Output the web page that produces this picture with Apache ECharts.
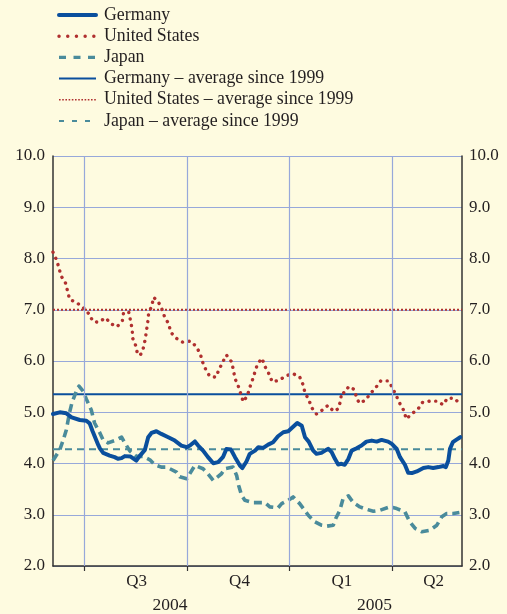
<!DOCTYPE html>
<html>
<head>
<meta charset="utf-8">
<script src="https://cdn.jsdelivr.net/npm/echarts@6/dist/echarts.min.js"></script>
<style>
  html, body { margin: 0; padding: 0; background: #fefbe0; }
  #chart { width: 507px; height: 614px; }
</style>
</head>
<body>
<div id="chart"></div>
<script>
// x values are decimal years (2004.5 = start of Q3 2004)
const xMin = 2004.4225;
const xMax = 2005.4214;

const seriesNames = ['Germany', 'United States', 'Japan',
  'Germany \u2013 average since 1999', 'United States \u2013 average since 1999', 'Japan \u2013 average since 1999'];

const germanyX = [2004.4225,2004.439,2004.455,2004.468,2004.488,2004.504,2004.512,2004.519,2004.524,2004.533,2004.537,2004.545,2004.561,2004.573,2004.581,2004.590,2004.598,2004.612,2004.620,2004.626,2004.634,2004.647,2004.655,2004.663,2004.675,2004.687,2004.704,2004.720,2004.736,2004.749,2004.757,2004.769,2004.777,2004.789,2004.801,2004.814,2004.826,2004.838,2004.846,2004.857,2004.867,2004.879,2004.885,2004.895,2004.903,2004.916,2004.924,2004.936,2004.948,2004.960,2004.972,2004.985,2004.997,2005.005,2005.019,2005.030,2005.038,2005.047,2005.058,2005.066,2005.078,2005.087,2005.095,2005.103,2005.111,2005.119,2005.127,2005.135,2005.144,2005.152,2005.164,2005.176,2005.188,2005.201,2005.213,2005.225,2005.241,2005.250,2005.262,2005.270,2005.282,2005.290,2005.299,2005.311,2005.327,2005.339,2005.351,2005.364,2005.376,2005.382,2005.388,2005.392,2005.399,2005.408,2005.417];
const germanyValues = [4.965,4.998,4.979,4.901,4.849,4.835,4.784,4.635,4.538,4.363,4.295,4.208,4.155,4.124,4.091,4.105,4.144,4.136,4.091,4.058,4.144,4.266,4.513,4.596,4.629,4.577,4.513,4.447,4.350,4.318,4.350,4.431,4.350,4.252,4.124,4.004,4.027,4.130,4.285,4.272,4.124,3.961,3.911,4.039,4.188,4.252,4.318,4.305,4.369,4.416,4.532,4.610,4.629,4.687,4.790,4.738,4.513,4.427,4.252,4.188,4.208,4.252,4.285,4.221,4.091,3.981,3.994,3.975,4.091,4.252,4.299,4.350,4.427,4.447,4.427,4.460,4.427,4.383,4.285,4.124,3.975,3.819,3.814,3.845,3.911,3.930,3.911,3.930,3.950,3.930,4.058,4.285,4.416,4.466,4.513];

const usX = [2004.4225,2004.431,2004.437,2004.442,2004.453,2004.458,2004.463,2004.481,2004.497,2004.511,2004.520,2004.534,2004.551,2004.564,2004.579,2004.592,2004.595,2004.608,2004.612,2004.616,2004.617,2004.625,2004.629,2004.636,2004.644,2004.648,2004.651,2004.654,2004.656,2004.664,2004.668,2004.679,2004.688,2004.695,2004.705,2004.710,2004.723,2004.739,2004.759,2004.771,2004.782,2004.787,2004.795,2004.805,2004.820,2004.828,2004.837,2004.846,2004.859,2004.863,2004.867,2004.875,2004.881,2004.887,2004.897,2004.903,2004.910,2004.916,2004.922,2004.933,2004.940,2004.950,2004.958,2004.975,2004.991,2005.008,2005.025,2005.033,2005.038,2005.047,2005.055,2005.066,2005.078,2005.094,2005.108,2005.118,2005.125,2005.127,2005.134,2005.145,2005.157,2005.164,2005.170,2005.185,2005.198,2005.211,2005.223,2005.242,2005.252,2005.261,2005.270,2005.280,2005.285,2005.299,2005.314,2005.325,2005.343,2005.361,2005.375,2005.386,2005.404,2005.417];
const usValues = [8.124,7.975,7.819,7.664,7.522,7.367,7.204,7.134,7.037,6.913,6.771,6.757,6.843,6.726,6.668,6.790,6.951,6.946,6.777,6.615,6.447,6.291,6.130,6.117,6.272,6.435,6.602,6.765,6.926,7.082,7.243,7.165,7.023,6.862,6.726,6.563,6.447,6.369,6.388,6.291,6.150,5.994,5.845,5.703,5.683,5.833,5.981,6.117,5.981,5.825,5.658,5.509,5.363,5.204,5.320,5.483,5.639,5.794,5.942,6.052,5.897,5.748,5.592,5.625,5.709,5.755,5.689,5.542,5.379,5.247,5.082,4.965,5.029,5.134,5.017,5.062,5.217,5.386,5.379,5.503,5.450,5.295,5.179,5.231,5.367,5.483,5.612,5.612,5.470,5.320,5.165,5.023,4.868,4.971,5.062,5.192,5.217,5.217,5.146,5.276,5.270,5.146];

const japanX = [2004.4225,2004.439,2004.447,2004.455,2004.463,2004.469,2004.480,2004.486,2004.496,2004.504,2004.516,2004.524,2004.537,2004.545,2004.557,2004.573,2004.590,2004.598,2004.610,2004.626,2004.642,2004.659,2004.671,2004.687,2004.700,2004.724,2004.732,2004.749,2004.769,2004.789,2004.801,2004.814,2004.834,2004.842,2004.862,2004.871,2004.876,2004.883,2004.891,2004.911,2004.940,2004.952,2004.972,2004.981,2004.997,2005.009,2005.025,2005.034,2005.046,2005.062,2005.078,2005.091,2005.107,2005.113,2005.123,2005.131,2005.144,2005.156,2005.172,2005.188,2005.205,2005.221,2005.245,2005.262,2005.282,2005.294,2005.307,2005.323,2005.343,2005.360,2005.372,2005.384,2005.400,2005.415];
const japanValues = [4.058,4.266,4.447,4.654,4.998,5.192,5.421,5.509,5.412,5.256,5.043,4.790,4.596,4.460,4.402,4.447,4.513,4.402,4.247,4.140,4.140,4.072,3.975,3.930,3.930,3.833,3.742,3.703,3.961,3.897,3.800,3.670,3.800,3.897,3.930,3.767,3.573,3.379,3.282,3.237,3.237,3.153,3.134,3.217,3.282,3.348,3.217,3.120,2.990,2.862,2.796,2.777,2.796,2.926,3.087,3.315,3.367,3.237,3.153,3.107,3.068,3.087,3.153,3.120,3.056,2.862,2.732,2.668,2.699,2.796,2.959,3.023,3.023,3.043];

const averages = [5.35, 7.0, 4.28]; // Germany, United States, Japan (since 1999)

const quarterStarts = [2004.5, 2004.75, 2005.0, 2005.25];
const quarterLabelPos = [2004.627, 2004.878, 2005.128, 2005.352];
const quarterLabels = ['Q3', 'Q4', 'Q1', 'Q2'];
const yearLabelPos = [2004.708, 2005.208];
const yearLabels = ['2004', '2005'];

const yTicks = { min: 2, max: 10, interval: 1 };

const FONT = '"Liberation Serif", "DejaVu Serif", serif';
const TEXT = '#231f20';
const BLUE = '#0a4f9d';
const RED = '#b0302f';
const TEAL = '#4a8b9b';
const GRID = '#97a8da';

function pairs(xs, ys) { return xs.map((x, i) => [x, ys[i]]); }
function nearestLabel(v, pos, labels) {
  let best = 0;
  for (let i = 1; i < pos.length; i++) if (Math.abs(pos[i] - v) < Math.abs(pos[best] - v)) best = i;
  return labels[best];
}

const chart = echarts.init(document.getElementById('chart'), null, { renderer: 'canvas' });

const hiddenSymbol = { opacity: 0, borderWidth: 0 };

const option = {
  backgroundColor: '#fefbe0',
  animation: false,
  textStyle: { fontFamily: FONT, color: TEXT },
  legend: {
    orient: 'vertical',
    left: 52,
    top: 1,
    itemWidth: 37,
    itemHeight: 14,
    itemGap: 3.2,
    itemStyle: hiddenSymbol,
    textStyle: { fontFamily: FONT, fontSize: 17.8, lineHeight: 18, color: TEXT, padding: [0, 0, 0, 3] },
    data: [
      { name: seriesNames[0], itemStyle: hiddenSymbol, lineStyle: { width: 4, color: BLUE, type: 'solid' } },
      { name: seriesNames[1], itemStyle: hiddenSymbol, lineStyle: { width: 3.4, color: RED, type: [0.1, 8.6], cap: 'round' } },
      { name: seriesNames[2], itemStyle: hiddenSymbol, lineStyle: { width: 3.4, color: TEAL, type: [7, 7.5], cap: 'butt' } },
      { name: seriesNames[3], itemStyle: hiddenSymbol, lineStyle: { width: 2, color: BLUE, type: 'solid' } },
      { name: seriesNames[4], itemStyle: hiddenSymbol, lineStyle: { width: 1.6, color: RED, type: [1.6, 1.6], cap: 'butt' } },
      { name: seriesNames[5], itemStyle: hiddenSymbol, lineStyle: { width: 2, color: TEAL, type: [5, 8], cap: 'butt' } }
    ]
  },
  grid: { left: 53, right: 45, top: 156, bottom: 46, containLabel: false },
  xAxis: [
    {
      type: 'value', min: xMin, max: xMax, position: 'bottom',
      axisLine: { show: true, lineStyle: { color: '#333', width: 1.5 } },
      axisTick: { show: true, customValues: quarterStarts, length: 5, lineStyle: { color: '#333', width: 1.2 } },
      axisLabel: {
        customValues: quarterLabelPos, margin: 7,
        fontFamily: FONT, fontSize: 17, color: TEXT,
        formatter: v => nearestLabel(v, quarterLabelPos, quarterLabels)
      },
      splitLine: { show: false }
    },
    {
      type: 'value', min: xMin, max: xMax, position: 'bottom', offset: 22,
      axisLine: { show: false }, axisTick: { show: false },
      axisLabel: {
        customValues: yearLabelPos, margin: 8,
        fontFamily: FONT, fontSize: 17.5, color: TEXT,
        formatter: v => nearestLabel(v, yearLabelPos, yearLabels)
      },
      splitLine: { show: false }
    }
  ],
  yAxis: [
    {
      type: 'value', min: yTicks.min, max: yTicks.max, interval: yTicks.interval, position: 'left',
      axisLine: { show: true, lineStyle: { color: '#333', width: 1.5 } },
      axisTick: { show: false },
      axisLabel: { margin: 8, fontFamily: FONT, fontSize: 17, color: TEXT, formatter: v => v.toFixed(1) },
      splitLine: { show: true, lineStyle: { color: GRID, width: 1.2 } }
    },
    {
      type: 'value', min: yTicks.min, max: yTicks.max, interval: yTicks.interval, position: 'right',
      axisLine: { show: true, lineStyle: { color: '#333', width: 1.5 } },
      axisTick: { show: false },
      axisLabel: { margin: 7, fontFamily: FONT, fontSize: 17, color: TEXT, formatter: v => v.toFixed(1) },
      splitLine: { show: false }
    }
  ],
  series: [
    {
      name: seriesNames[3], type: 'line', symbol: 'none', showSymbol: false, silent: true,
      data: [[xMin, averages[0]], [xMax, averages[0]]],
      lineStyle: { width: 2, color: BLUE },
      itemStyle: { color: BLUE },
      markLine: {
        silent: true, symbol: ['none', 'none'], label: { show: false },
        lineStyle: { color: GRID, width: 1.2, type: 'solid' },
        data: quarterStarts.map(q => ({ xAxis: q }))
      },
      z: 1
    },
    {
      name: seriesNames[4], type: 'line', symbol: 'none', showSymbol: false, silent: true,
      data: [[xMin, averages[1]], [xMax, averages[1]]],
      lineStyle: { width: 2, color: RED, type: [2, 2] },
      itemStyle: { color: RED }, z: 2
    },
    {
      name: seriesNames[5], type: 'line', symbol: 'none', showSymbol: false, silent: true,
      data: [[xMin, averages[2]], [xMax, averages[2]]],
      lineStyle: { width: 2, color: TEAL, type: [7, 5] },
      itemStyle: { color: TEAL }, z: 2
    },
    {
      name: seriesNames[2], type: 'line', symbol: 'none', showSymbol: false, silent: true,
      data: pairs(japanX, japanValues),
      lineStyle: { width: 3.6, color: TEAL, type: [8, 5], cap: 'butt', join: 'round' },
      itemStyle: { color: TEAL }, z: 3
    },
    {
      name: seriesNames[1], type: 'line', symbol: 'none', showSymbol: false, silent: true,
      data: pairs(usX, usValues),
      lineStyle: { width: 3.4, color: RED, type: [0.1, 6.6], cap: 'round', join: 'round' },
      itemStyle: { color: RED }, z: 4
    },
    {
      name: seriesNames[0], type: 'line', symbol: 'none', showSymbol: false, silent: true,
      data: pairs(germanyX, germanyValues),
      lineStyle: { width: 4, color: BLUE, join: 'round', cap: 'round' },
      itemStyle: { color: BLUE }, z: 5
    }
  ]
};

chart.setOption(option);
</script>
</body>
</html>
